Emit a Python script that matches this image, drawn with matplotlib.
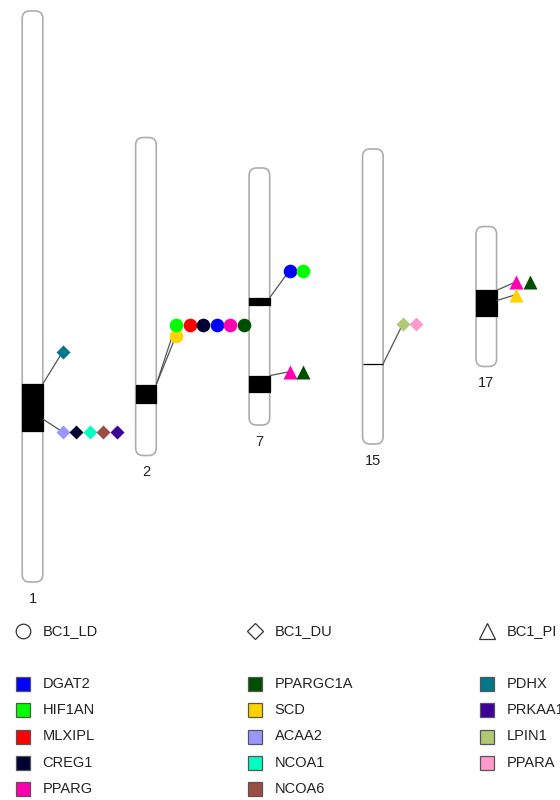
import matplotlib
matplotlib.use("Agg")
import matplotlib.pyplot as plt
from matplotlib.patches import FancyBboxPatch, Rectangle

plt.rcParams['font.family'] = ['Liberation Sans', 'DejaVu Sans']

# Chromosomes and their lengths (Mb)
chromosomes = ['1', '2', '7', '15', '17']
chrom_length_mb = [273.9, 152.5, 123.3, 141.5, 67.1]

# QTL regions drawn as black bands (chromosome, start Mb, end Mb)
region_chrom = ['1', '2', '7', '7', '15', '17']
region_start = [178.9, 118.5, 62.2, 99.6, 103.0, 30.6]
region_end = [201.4, 127.1, 65.8, 107.3, 103.0, 42.7]

# Gene groups: locus where the connector leaves the chromosome,
# row (Mb) where the gene symbols are placed, trait and genes
group_chrom = ['1', '1', '2', '2', '7', '7', '15', '17', '17']
group_locus = [178.9, 195.7, 118.5, 118.5, 62.2, 99.6, 103.0, 30.6, 35.5]
group_row = [163.5, 201.9, 95.0, 89.7, 49.2, 97.7, 83.8, 26.4, 32.6]
group_trait = ['BC1_DU', 'BC1_DU', 'BC1_LD', 'BC1_LD', 'BC1_LD', 'BC1_PI',
               'BC1_DU', 'BC1_PI', 'BC1_PI']
group_genes = [
    ['PDHX'],
    ['ACAA2', 'CREG1', 'NCOA1', 'NCOA6', 'PRKAA1'],
    ['SCD'],
    ['HIF1AN', 'MLXIPL', 'CREG1', 'DGAT2', 'PPARG', 'PPARGC1A'],
    ['DGAT2', 'HIF1AN'],
    ['PPARG', 'PPARGC1A'],
    ['LPIN1', 'PPARA'],
    ['PPARG', 'PPARGC1A'],
    ['SCD'],
]

traits = ['BC1_LD', 'BC1_DU', 'BC1_PI']
trait_markers = ['o', 'D', '^']

genes = ['DGAT2', 'HIF1AN', 'MLXIPL', 'CREG1', 'PPARG',
         'PPARGC1A', 'SCD', 'ACAA2', 'NCOA1', 'NCOA6',
         'PDHX', 'PRKAA1', 'LPIN1', 'PPARA']
gene_colors = ['#0000FF', '#00FF00', '#FF0000', '#000033', '#FF00B0',
               '#004F00', '#FFD300', '#9A96FF', '#00FFC0', '#9A4D42',
               '#00788A', '#3E0096', '#B1C874', '#FF9ACD']

# ---- layout ----
W, H = 560, 800
PX_PER_MB = 2.085
CENTER_PX = 296.5
COL0_PX = 32.5
COL_STEP_PX = 113.45
HALF_W_PX = 10.3
MAIN_H_PX = 600

fig = plt.figure(figsize=(W / 100, H / 100), dpi=100)
ax = fig.add_axes([0, 1 - MAIN_H_PX / H, 1, MAIN_H_PX / H])
ax.set_xlim(-COL0_PX / COL_STEP_PX, (W - COL0_PX) / COL_STEP_PX)
ax.set_ylim((MAIN_H_PX - CENTER_PX) / PX_PER_MB, -CENTER_PX / PX_PER_MB)
ax.axis('off')

x_per_px = 1 / COL_STEP_PX
half_w = HALF_W_PX * x_per_px
aspect = (1 / PX_PER_MB) / x_per_px

col_of = {c: i for i, c in enumerate(chromosomes)}
len_of = dict(zip(chromosomes, chrom_length_mb))
color_of = dict(zip(genes, gene_colors))
marker_of = dict(zip(traits, trait_markers))
msize_of = {'o': 9.8, 'D': 7.2, '^': 9.8}


def ypos(chrom, mb):
    return mb - len_of[chrom] / 2


# chromosome bodies
for c, L in zip(chromosomes, chrom_length_mb):
    x = col_of[c]
    body = FancyBboxPatch((x - half_w, -L / 2), 2 * half_w, L,
                          boxstyle="round,pad=0,rounding_size=%f" % (7.5 * x_per_px),
                          mutation_aspect=aspect,
                          facecolor='white', edgecolor='#ADADAD', lw=1.2, zorder=1)
    ax.add_patch(body)
    ax.text(x, L / 2 + 17 / PX_PER_MB, c, ha='center', va='center',
            fontsize=10.5, color='#222222')

# QTL bands
for c, s, e in zip(region_chrom, region_start, region_end):
    x = col_of[c]
    ax.add_patch(Rectangle((x - half_w, ypos(c, s)), 2 * half_w, e - s,
                           facecolor='black', edgecolor='black', lw=0.9, zorder=2))

# connectors and gene symbols
first_off = 19.8 * x_per_px
step = 13.5 * x_per_px
for c, locus, row, trait, gl in zip(group_chrom, group_locus, group_row,
                                    group_trait, group_genes):
    x = col_of[c]
    x0 = x + half_w
    x1 = x0 + first_off
    ax.plot([x0, x1], [ypos(c, locus), ypos(c, row)], color='#555555',
            lw=0.9, zorder=3, solid_capstyle='butt')
    m = marker_of[trait]
    for k, g in enumerate(gl):
        ax.plot(x1 + k * step, ypos(c, row), marker=m, ms=msize_of[m],
                mfc=color_of[g], mec='none', ls='none', zorder=4 + k)

# ---- legend ----
lax = fig.add_axes([0, 0, 1, 1 - MAIN_H_PX / H])
lax.set_xlim(0, W)
lax.set_ylim(H, MAIN_H_PX)
lax.axis('off')

leg_cols_px = [22.5, 254.5, 486.5]
text_dx = 20
for t, m, cx in zip(traits, trait_markers, leg_cols_px):
    lax.plot(cx, 631, marker=m, ms={'o': 10.5, 'D': 7.8, '^': 11}[m],
             mfc='white', mec='#333333', mew=0.9, ls='none', clip_on=False)
    lax.text(cx + text_dx, 631, t, ha='left', va='center', fontsize=10.5,
             color='#222222', clip_on=False)

rows_px = [684, 710, 736.5, 763, 789]
for i, (g, col) in enumerate(zip(genes, gene_colors)):
    cx = leg_cols_px[i // 5]
    cy = rows_px[i % 5]
    lax.plot(cx, cy, marker='s', ms=10.5, mfc=col, mec='#555555', mew=0.9,
             ls='none', clip_on=False)
    lax.text(cx + text_dx, cy, g, ha='left', va='center', fontsize=10.5,
             color='#222222', clip_on=False)

fig.savefig('out.png', dpi=100)
